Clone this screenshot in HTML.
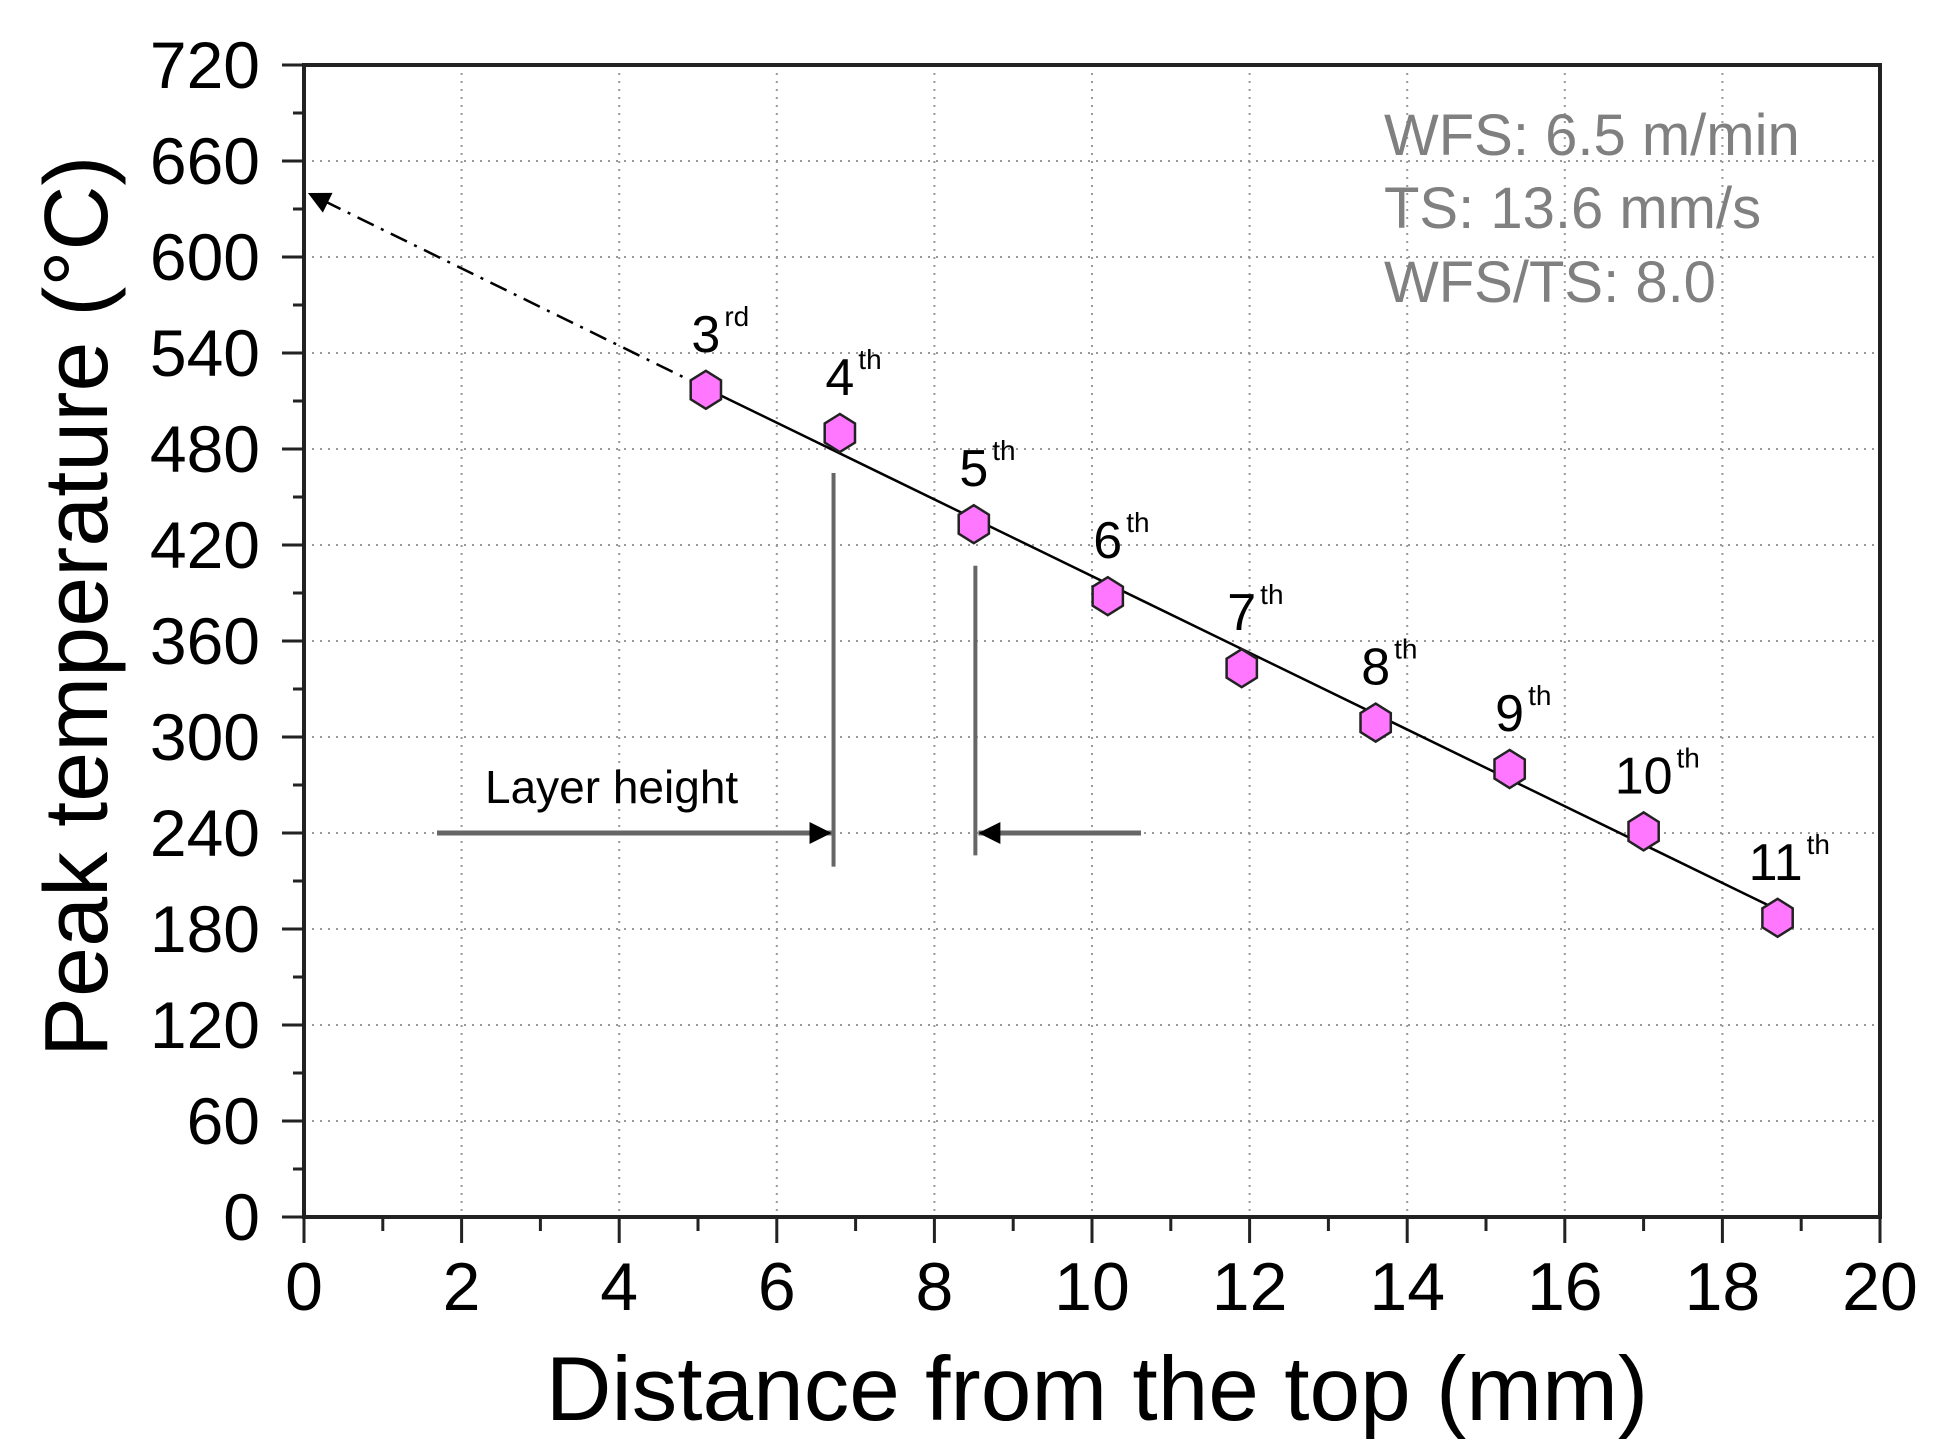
<!DOCTYPE html>
<html><head><meta charset="utf-8"><style>html,body{margin:0;padding:0;background:#fff}svg{display:block}text{font-family:"Liberation Sans",Arial,sans-serif}</style></head>
<body>
<svg id="chart" width="1943" height="1456" viewBox="0 0 1943 1456" xmlns="http://www.w3.org/2000/svg">
<g id="grid"></g>
<g id="annot"></g>
<g id="series"></g>
<g id="axes"></g>
<g fill="#808080" font-size="58">
<text x="1384" y="155">WFS: 6.5 m/min</text>
<text x="1384" y="228">TS: 13.6 mm/s</text>
<text x="1384" y="302">WFS/TS: 8.0</text>
</g>
<text transform="translate(107,1057) rotate(-90)" font-size="90" fill="#000">Peak temperature (°C)</text>
<text x="1097" y="1420" text-anchor="middle" font-size="91" fill="#000">Distance from the top (mm)</text>
</svg>
<script>
const xValues = [5.1, 6.8, 8.5, 10.2, 11.9, 13.6, 15.3, 17.0, 18.7];
const yValues = [517, 490, 433, 388, 343, 309, 280, 241, 187];
const layerNums = ["3", "4", "5", "6", "7", "8", "9", "10", "11"];
const layerSuffix = ["rd", "th", "th", "th", "th", "th", "th", "th", "th"];
const fitStart = [5.1, 518];
const fitEnd = [18.7, 192];
const extStart = [0.05, 640];
const xTicks = [0, 2, 4, 6, 8, 10, 12, 14, 16, 18, 20];
const yTicks = [0, 60, 120, 180, 240, 300, 360, 420, 480, 540, 600, 660, 720];
const layerLines = [6.72, 8.52];

const NS = "http://www.w3.org/2000/svg";
const X0 = 304, X1 = 1880, Y0 = 1217, Y1 = 65;
const sx = v => X0 + (v / 20) * (X1 - X0);
const sy = v => Y0 - (v / 720) * (Y0 - Y1);
function mk(tag, attrs, parent) {
  const e = document.createElementNS(NS, tag);
  for (const k in attrs) e.setAttribute(k, attrs[k]);
  parent.appendChild(e);
  return e;
}
const grid = document.getElementById('grid');
const axes = document.getElementById('axes');
const series = document.getElementById('series');
const annot = document.getElementById('annot');

xTicks.forEach((t, i) => {
  if (t > 0 && t < 20) {
    const g = mk('line', {x1: sx(t), x2: sx(t), y1: Y1, y2: Y0, stroke: '#999', 'stroke-width': 2, 'stroke-dasharray': '2 6'}, grid);
    
    
  }
  const tk = mk('line', {x1: sx(t), x2: sx(t), y1: Y0, y2: Y0 + 26, stroke: '#222', 'stroke-width': 3}, axes);
  
  
  if (i < xTicks.length - 1) {
    const m = (t + xTicks[i + 1]) / 2;
    const mt = mk('line', {x1: sx(m), x2: sx(m), y1: Y0, y2: Y0 + 14, stroke: '#222', 'stroke-width': 3}, axes);
    
    
  }
  const lb = mk('text', {x: sx(t), y: 1310, 'text-anchor': 'middle', 'font-size': 68, fill: '#000'}, axes);
  lb.textContent = t;
  
  
});
yTicks.forEach((t, i) => {
  if (t > 0 && t < 720) {
    const g = mk('line', {x1: X0, x2: X1, y1: sy(t), y2: sy(t), stroke: '#999', 'stroke-width': 2, 'stroke-dasharray': '2 6'}, grid);
    
    
  }
  const tk = mk('line', {x1: X0 - 22, x2: X0, y1: sy(t), y2: sy(t), stroke: '#222', 'stroke-width': 3}, axes);
  
  
  if (i < yTicks.length - 1) {
    const m = (t + yTicks[i + 1]) / 2;
    const mt = mk('line', {x1: X0 - 11, x2: X0, y1: sy(m), y2: sy(m), stroke: '#222', 'stroke-width': 3}, axes);
    
    
  }
  const lb = mk('text', {x: 260, y: sy(t) + 23, 'text-anchor': 'end', 'font-size': 66, fill: '#000'}, axes);
  lb.textContent = t;
  
  
});
const frame = mk('rect', {x: X0, y: Y1, width: X1 - X0, height: Y0 - Y1, fill: 'none', stroke: '#222', 'stroke-width': 4}, axes);



const defs = mk('defs', {}, annot);
const mar = mk('marker', {id: 'ah', viewBox: '0 0 10 10', refX: 10, refY: 5, markerWidth: 26, markerHeight: 22, orient: 'auto', markerUnits: 'userSpaceOnUse'}, defs);
mk('path', {d: 'M0,0 L10,5 L0,10 z', fill: '#000'}, mar);
const ext = mk('line', {x1: sx(fitStart[0]), y1: sy(fitStart[1]), x2: sx(extStart[0]), y2: sy(extStart[1]), stroke: '#000', 'stroke-width': 2.5, 'stroke-dasharray': '18 8 3 8', 'marker-end': 'url(#ah)'}, annot);


const l1 = mk('line', {x1: sx(layerLines[0]), x2: sx(layerLines[0]), y1: sy(465), y2: sy(219), stroke: '#666', 'stroke-width': 4}, annot);


const l2 = mk('line', {x1: sx(layerLines[1]), x2: sx(layerLines[1]), y1: sy(407), y2: sy(226), stroke: '#666', 'stroke-width': 4}, annot);


const a1 = mk('line', {x1: 437, x2: sx(layerLines[0]) - 2, y1: sy(240), y2: sy(240), stroke: '#666', 'stroke-width': 5, 'marker-end': 'url(#ah)'}, annot);


const a2 = mk('line', {x1: 1141, x2: sx(layerLines[1]) + 3, y1: sy(240), y2: sy(240), stroke: '#666', 'stroke-width': 5, 'marker-end': 'url(#ah)'}, annot);


const lt = mk('text', {x: 485, y: 803, 'font-size': 46, fill: '#000'}, annot);
lt.textContent = 'Layer height';



const fit = mk('line', {x1: sx(fitStart[0]), y1: sy(fitStart[1]), x2: sx(fitEnd[0]), y2: sy(fitEnd[1]), stroke: '#000', 'stroke-width': 2.5}, series);



xValues.forEach((xv, i) => {
  const cx = sx(xv), cy = sy(yValues[i]), r = 19;
  let pts = [];
  for (let k = 0; k < 6; k++) {
    const a = Math.PI / 2 + k * Math.PI / 3;
    pts.push((cx + r * Math.cos(a) * 0.92).toFixed(1) + ',' + (cy - r * Math.sin(a)).toFixed(1));
  }
  const h = mk('polygon', {points: pts.join(' '), fill: '#ff77ff', stroke: '#222', 'stroke-width': 2.5}, series);
  
  
  const fs = 52;
  const t = mk('text', {x: cx - 0.278 * fs * layerNums[i].length, y: cy - 38, 'font-size': fs, fill: '#000'}, series);
  t.textContent = layerNums[i];
  const s = mk('tspan', {dy: -26, dx: 4, 'font-size': 28}, t);
  s.textContent = layerSuffix[i];
  
  
});
</script>
</body></html>
